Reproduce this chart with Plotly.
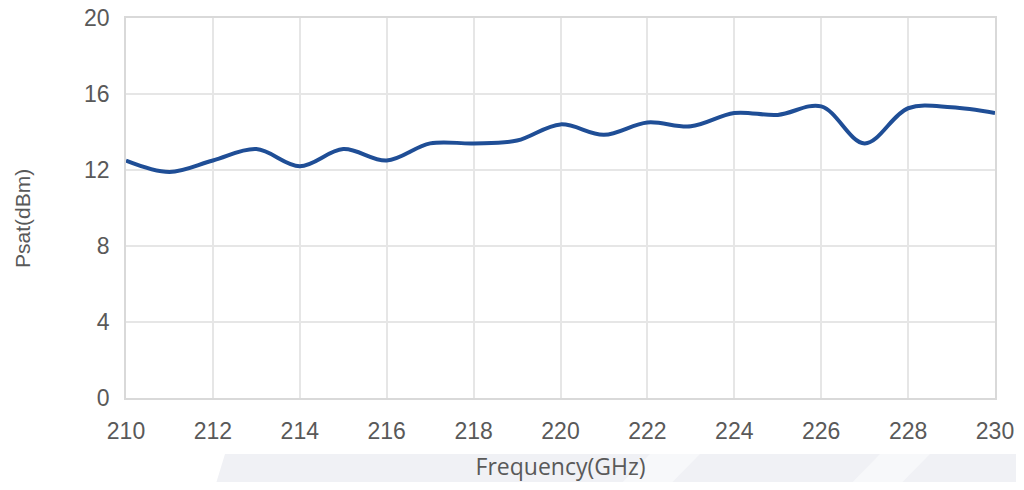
import plotly.graph_objects as go

freq = [210, 211, 212, 213, 214, 215, 216, 217, 218, 219, 220,
        221, 222, 223, 224, 225, 226, 227, 228, 229, 230]
psat = [12.5, 11.9, 12.5, 13.1, 12.2, 13.1, 12.5, 13.4, 13.4, 13.55, 14.4,
        13.85, 14.5, 14.3, 15.0, 14.9, 15.35, 13.4, 15.25, 15.3, 15.0]
x_ticks = [210, 212, 214, 216, 218, 220, 222, 224, 226, 228, 230]
y_ticks = [0, 4, 8, 12, 16, 20]

# target plot-area edges in page pixels
L, R, T, B = 126, 995, 18, 398
OFF = 8  # default body margin of the html page
W, H = 1024 - 2 * OFF, 490 - 2 * OFF


def px(x):
    return (x - L) / (R - L)


def py(y):
    return (B - y) / (B - T)


fig = go.Figure()
fig.add_trace(go.Scatter(
    x=freq, y=psat, mode="lines",
    line=dict(color="#1f4e96", width=4, shape="spline", smoothing=1.0),
    hoverinfo="x+y", showlegend=False,
))

grey = "#f0f1f5"
shapes = [
    dict(type="path", xref="paper", yref="paper", layer="below",
         path=f"M {px(225)},{py(454)} L {px(1018)},{py(454)} L {px(1018)},{py(0)} "
              f"L {px(1030)},{py(0)} L {px(1030)},{py(500)} L {px(211)},{py(500)} Z",
         fillcolor=grey, line=dict(width=0)),
    dict(type="path", xref="paper", yref="paper", layer="below",
         path=f"M {px(650)},{py(454)} L {px(700)},{py(454)} L {px(655)},{py(500)} L {px(605)},{py(500)} Z",
         fillcolor="#f7f8fa", line=dict(width=0)),
    dict(type="path", xref="paper", yref="paper", layer="below",
         path=f"M {px(880)},{py(454)} L {px(930)},{py(454)} L {px(885)},{py(500)} L {px(835)},{py(500)} Z",
         fillcolor="#f7f8fa", line=dict(width=0)),
]

tickfont = dict(family="Liberation Sans, Arial", size=23, color="#595959")

fig.update_layout(
    width=W, height=H,
    margin=dict(l=L - OFF, r=W - (R - OFF), t=T - OFF, b=H - (B - OFF)),
    paper_bgcolor="white", plot_bgcolor="white",
    shapes=shapes,
    xaxis=dict(
        range=[210, 230], tickvals=x_ticks, ticktext=[str(v) for v in x_ticks],
        showgrid=True, gridcolor="#e6e6e6", gridwidth=1.5,
        showline=True, linecolor="#d9d9d9", linewidth=1.5, mirror=True,
        zeroline=False, ticks="outside", ticklen=12, tickcolor="rgba(0,0,0,0)",
        tickfont=tickfont, automargin=False, ticklabeloverflow="allow",
        title=dict(text="Frequency(GHz)", standoff=22,
                   font=dict(family="Open Sans", size=23, color="#595959")),
    ),
    yaxis=dict(
        range=[0, 20], tickvals=y_ticks, ticktext=[str(v) for v in y_ticks],
        showgrid=True, gridcolor="#e6e6e6", gridwidth=1.5,
        showline=True, linecolor="#d9d9d9", linewidth=1.5, mirror=True,
        zeroline=False, ticks="outside", ticklen=10, tickcolor="rgba(0,0,0,0)",
        tickfont=tickfont, automargin=False, ticklabeloverflow="allow",
    ),
    annotations=[dict(
        text="Psat(dBm)", textangle=-90, showarrow=False,
        xref="paper", yref="paper", x=px(22), y=py(219),
        xanchor="center", yanchor="middle",
        font=dict(family="Liberation Sans, Arial", size=21, color="#595959"),
    )],
)

fig.write_html("out.html")
